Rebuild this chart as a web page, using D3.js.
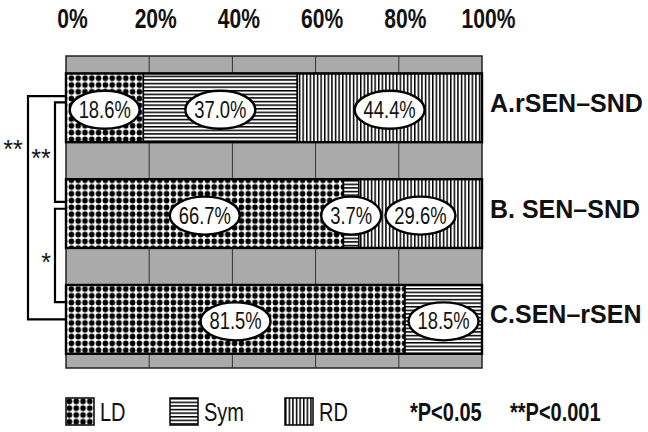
<!DOCTYPE html>
<html>
<head>
<script src="https://d3js.org/d3.v7.min.js"></script>
<style>
  html, body { margin: 0; padding: 0; background: #fff; }
  svg { display: block; }
  text { font-family: "Liberation Sans", Arial, sans-serif; fill: #111; }
</style>
</head>
<body>
<svg id="chart" width="648" height="432"></svg>
<script>

    // data
    var groups = ["A.rSEN\u2013SND", "B. SEN\u2013SND", "C.SEN\u2013rSEN"],
        ldValues = [18.6, 66.7, 81.5],
        symValues = [37.0, 3.7, 18.5],
        rdValues = [44.4, 29.6, 0],
        tickValues = [0, 20, 40, 60, 80, 100],
        legendNames = ["LD", "Sym", "RD"],
        sigNotes = ["*P<0.05", "**P<0.001"],
        brackets = [
            {from: 0, to: 2, mark: "**"},
            {from: 0, to: 1, mark: "**"},
            {from: 1, to: 2, mark: "*"}
        ];

    var width = 648,
        height = 432,
        plotTop = 56,
        plotBottom = 368,
        narrow = 0.8;

    var svg = d3.select('#chart');

    var x = d3.scaleLinear()
        .domain([0, 100])
        .range([66, 482]);

    var y = d3.scaleBand()
        .domain(groups)
        .range([plotTop, plotBottom])
        .paddingInner(0.35)
        .paddingOuter(0.15)
        .align(0.55);

    // patterns
    var defs = svg.append('defs');

    var pLD = defs.append('pattern')
        .attr('id', 'pat-LD')
        .attr('patternUnits', 'userSpaceOnUse')
        .attr('width', 6.8).attr('height', 6.8);
    pLD.append('rect').attr('width', 6.8).attr('height', 6.8).attr('fill', '#fff');
    pLD.append('circle').attr('cx', 3.4).attr('cy', 3.4).attr('r', 2.8).attr('fill', '#000');

    var pSym = defs.append('pattern')
        .attr('id', 'pat-Sym')
        .attr('patternUnits', 'userSpaceOnUse')
        .attr('width', 8).attr('height', 3.6);
    pSym.append('rect').attr('width', 8).attr('height', 3.6).attr('fill', '#fff');
    pSym.append('rect').attr('width', 8).attr('height', 1.5).attr('fill', '#000');

    var pRD = defs.append('pattern')
        .attr('id', 'pat-RD')
        .attr('patternUnits', 'userSpaceOnUse')
        .attr('width', 3.6).attr('height', 8);
    pRD.append('rect').attr('width', 3.6).attr('height', 8).attr('fill', '#fff');
    pRD.append('rect').attr('width', 1.5).attr('height', 8).attr('fill', '#000');

    // gray background + grid
    svg.append('rect')
        .attr('x', x(0)).attr('y', plotTop)
        .attr('width', x(100) - x(0)).attr('height', plotBottom - plotTop)
        .attr('fill', '#aaaaaa');

    svg.append('g')
        .selectAll('line')
        .data(tickValues.slice(1, -1))
        .join('line')
        .attr('x1', function(d) { return x(d); })
        .attr('x2', function(d) { return x(d); })
        .attr('y1', plotTop).attr('y2', plotBottom)
        .attr('stroke', '#333')
        .attr('stroke-width', 1);

    svg.append('rect')
        .attr('x', x(0)).attr('y', plotTop)
        .attr('width', x(100) - x(0)).attr('height', plotBottom - plotTop)
        .attr('fill', 'none')
        .attr('stroke', '#222')
        .attr('stroke-width', 1.5);

    // top axis
    var axis = svg.append('g')
        .attr('transform', 'translate(0,30)')
        .call(d3.axisTop(x).tickValues(tickValues).tickSize(0).tickPadding(2)
            .tickFormat(function(d) { return d + '%'; }));
    axis.select('.domain').remove();
    axis.selectAll('text')
        .attr('font-family', '"Liberation Sans", Arial, sans-serif')
        .attr('font-size', 27)
        .attr('font-weight', 'bold')
        .attr('fill', '#111')
        .attr('transform', 'translate(6,0) scale(0.78,1)');

    // stacked segments
    var rows = groups.map(function(g, i) {
        var vals = [ldValues[i], symValues[i], rdValues[i]], acc = 0;
        return legendNames.map(function(k, j) {
            var s = {group: g, key: k, x0: acc, x1: acc + vals[j], value: vals[j]};
            acc += vals[j];
            return s;
        }).filter(function(s) { return s.value > 0; });
    });
    var segments = d3.merge(rows);

    svg.append('g')
        .selectAll('rect')
        .data(segments)
        .join('rect')
        .attr('x', function(d) { return x(d.x0); })
        .attr('y', function(d) { return y(d.group); })
        .attr('width', function(d) { return x(d.x1) - x(d.x0); })
        .attr('height', y.bandwidth())
        .attr('fill', function(d) { return 'url(#pat-' + d.key + ')'; })
        .attr('stroke', '#000')
        .attr('stroke-width', 1.5);

    svg.append('g')
        .selectAll('rect')
        .data(groups)
        .join('rect')
        .attr('x', x(0))
        .attr('y', function(d) { return y(d); })
        .attr('width', x(100) - x(0))
        .attr('height', y.bandwidth())
        .attr('fill', 'none')
        .attr('stroke', '#000')
        .attr('stroke-width', 2.4);

    // value ellipses
    var lab = svg.append('g')
        .selectAll('g')
        .data(segments)
        .join('g')
        .attr('transform', function(d) {
            return 'translate(' + ((x(d.x0) + x(d.x1)) / 2) + ',' + (y(d.group) + y.bandwidth() / 2 + 2) + ')';
        });

    lab.append('ellipse')
        .attr('rx', function(d) { return d.value < 10 ? 30 : 35; })
        .attr('ry', 19)
        .attr('fill', '#fff')
        .attr('stroke', '#000')
        .attr('stroke-width', 2.4);

    lab.append('text')
        .attr('text-anchor', 'middle')
        .attr('y', 8)
        .attr('font-size', 23)
        .attr('transform', 'scale(' + narrow + ',1)')
        .text(function(d) { return d.value.toFixed(1) + '%'; });

    // group labels on the right
    svg.append('g')
        .selectAll('text')
        .data(groups)
        .join('text')
        .attr('x', 490)
        .attr('y', function(d) { return y(d) + y.bandwidth() / 2 + 4; })
        .attr('font-size', 25)
        .attr('font-weight', 'bold')
        .text(function(d) { return d; });

    // significance brackets
    var bx = [28, 55],
        b = y.bandwidth();
    var bracketGeom = [
        {x: bx[0], y0: y(groups[0]) + 0.33 * b, y1: y(groups[2]) + 0.5 * b, ty: 145, tx: 13},
        {x: bx[1], y0: y(groups[0]) + 0.42 * b, y1: y(groups[1]) + 0.33 * b, ty: 154, tx: 41},
        {x: bx[1], y0: y(groups[1]) + 0.43 * b, y1: y(groups[2]) + 0.25 * b, ty: 258, tx: 46}
    ];

    var br = svg.append('g')
        .selectAll('g')
        .data(brackets)
        .join('g');

    br.append('path')
        .attr('d', function(d, i) {
            var g = bracketGeom[i];
            return 'M' + x(0) + ',' + g.y0 + 'H' + g.x + 'V' + g.y1 + 'H' + x(0);
        })
        .attr('fill', 'none')
        .attr('stroke', '#000')
        .attr('stroke-width', 2.2);

    br.append('text')
        .attr('x', function(d, i) { return bracketGeom[i].tx; })
        .attr('y', function(d, i) { return bracketGeom[i].ty + 13; })
        .attr('text-anchor', 'middle')
        .attr('font-size', 25)
        .text(function(d) { return d.mark; });

    // legend
    var legendX = [66, 170, 285];
    var leg = svg.append('g')
        .selectAll('g')
        .data(legendNames)
        .join('g')
        .attr('transform', function(d, i) { return 'translate(' + legendX[i] + ',398)'; });

    leg.append('rect')
        .attr('width', 28).attr('height', 27)
        .attr('fill', function(d) { return 'url(#pat-' + d + ')'; })
        .attr('stroke', '#000')
        .attr('stroke-width', 1.5);

    leg.append('text')
        .attr('y', 23)
        .attr('font-size', 25)
        .attr('transform', 'scale(' + narrow + ',1)')
        .attr('x', 34 / narrow)
        .text(function(d) { return d; });

    svg.append('g')
        .selectAll('text')
        .data(sigNotes)
        .join('text')
        .attr('transform', function(d, i) { return 'translate(' + [410, 510][i] + ',421) scale(0.8,1)'; })
        .attr('font-size', 25)
        .attr('font-weight', 'bold')
        .text(function(d) { return d; });

</script>
</body>
</html>
